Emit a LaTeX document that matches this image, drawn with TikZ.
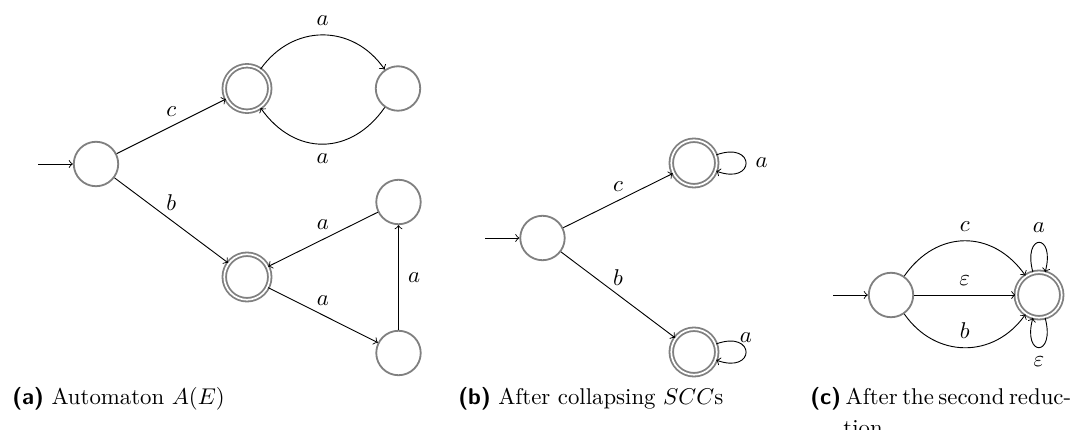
\documentclass[tikz,border=0pt]{standalone}
\usetikzlibrary{arrows}
\begin{document}
\begin{tikzpicture}[x=0.4386pt,y=-0.4386pt,
  st/.style={circle,draw=gray,line width=0.8pt,minimum size=19.5pt,inner sep=0pt},
  acc/.style={circle,draw=gray,line width=0.8pt,double=white,double distance=0.75pt,minimum size=19.95pt,inner sep=0pt},
  tr/.style={->,line width=0.4pt},
  lbl/.style={inner sep=4pt},
  captxt/.style={anchor=base west,inner sep=0pt,font=\normalsize}]
\useasboundingbox (0,0) rectangle (1070,430);
% ---------- (a)
\node[st]  (a0) at (96,164) {};
\node[acc] (a1) at (247,88.5) {};
\node[st]  (a2) at (398,88.5) {};
\node[acc] (a3) at (247,277) {};
\node[st]  (a4) at (398.5,202) {};
\node[st]  (a5) at (398.5,353) {};
\coordinate (ia) at (38,164);
\draw[tr] (ia) -- (a0);
\draw[tr] (a0) -- node[lbl,above]{$c$} (a1);
\draw[tr] (a0) -- node[lbl,above]{$b$} (a3);
\draw[tr] (a1) to[bend left=55,looseness=1.15] node[lbl,above]{$a$} (a2);
\draw[tr] (a2) to[bend left=55,looseness=1.22] node[lbl,below]{$a$} (a1);
\draw[tr] (a4) -- node[lbl,above]{$a$} (a3);
\draw[tr] (a3) -- node[lbl,above]{$a$} (a5);
\draw[tr] (a5) -- node[lbl,right]{$a$} (a4);
% ---------- (b)
\node[st]  (b0) at (542.5,238) {};
\node[acc] (b1) at (694,163) {};
\node[acc] (b2) at (694,352) {};
\coordinate (ib) at (485,238);
\draw[tr] (ib) -- (b0);
\draw[tr] (b0) -- node[lbl,above]{$c$} (b1);
\draw[tr] (b0) -- node[lbl,above]{$b$} (b2);
\draw[tr] (b1) to[out=20,in=-20,min distance=18.5pt] node[lbl,right]{$a$} (b1);
\draw[tr] (b2) to[out=20,in=-20,min distance=18.5pt] node[lbl,above]{$a$} (b2);
% ---------- (c)
\node[st]  (c0) at (891,295) {};
\node[acc] (c1) at (1039,295) {};
\coordinate (ic) at (833,295);
\draw[tr] (ic) -- (c0);
\draw[tr] (c0) to[bend left=55,looseness=1.2] node[lbl,above]{$c$} (c1);
\draw[tr] (c0) -- node[lbl,above]{$\varepsilon$} (c1);
\draw[tr] (c0) to[bend right=55,looseness=1.15] node[lbl,above]{$b$} (c1);
\draw[tr] (c1) to[out=105,in=75,min distance=18pt] node[lbl,above]{$a$} (c1);
\draw[tr] (c1) to[out=-75,in=-105,min distance=18pt] node[lbl,below]{$\varepsilon$} (c1);
% ---------- captions
\node[captxt] (capa) at (12,405) {\textsf{\textbf{(a)}} Automaton $A(E)$};
\node[captxt] (capb) at (458,405) {\textsf{\textbf{(b)}} After collapsing $SCC$s};
\node[captxt] (capc) at (810,405) {\spaceskip=2pt plus 3pt\hbox to 112pt{\textsf{\textbf{(c)}} After the second reduc-}};
\node[captxt] (capc2) at (843,436) {tion};
\end{tikzpicture}
\end{document}
